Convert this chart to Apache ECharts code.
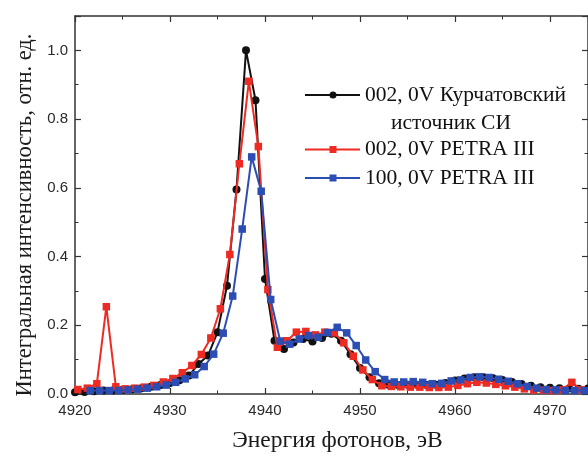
<!DOCTYPE html>
<html>
<head>
<meta charset="utf-8">
<script src="https://cdn.jsdelivr.net/npm/echarts@6/dist/echarts.min.js"></script>
<style>html,body{margin:0;padding:0;background:#fff;}#c{width:588px;height:458px;}</style>
</head>
<body>
<div id="c"></div>
<script>
// Курчатовский источник СИ, 002
var blackE = [4920,4921,4922,4923,4924,4925,4926,4927,4928,4929,4930,4931,4932,4933,4934,4935,4936,4937,4938,4939,4940,4941,4942,4943,4944,4945,4946,4947,4948,4949,4950,4951,4952,4953,4954,4955,4956,4957,4958,4959,4960,4961,4962,4963,4964,4965,4966,4967,4968,4969,4970,4971,4972,4973,4974];
var blackV = [0.005,0.006,0.008,0.010,0.010,0.012,0.014,0.017,0.021,0.026,0.032,0.040,0.054,0.087,0.112,0.180,0.315,0.595,1.000,0.855,0.335,0.155,0.131,0.150,0.160,0.153,0.163,0.175,0.155,0.116,0.076,0.049,0.031,0.027,0.026,0.027,0.027,0.026,0.027,0.032,0.039,0.045,0.049,0.049,0.046,0.041,0.035,0.029,0.024,0.020,0.018,0.017,0.016,0.015,0.016];
// PETRA III, 002
var redE = [4920.3,4921.3,4922.3,4923.3,4924.3,4925.3,4926.3,4927.3,4928.3,4929.3,4930.3,4931.3,4932.3,4933.3,4934.3,4935.3,4936.3,4937.3,4938.3,4939.3,4940.3,4941.3,4942.3,4943.3,4944.3,4945.3,4946.3,4947.3,4948.3,4949.3,4950.3,4951.3,4952.3,4953.3,4954.3,4955.3,4956.3,4957.3,4958.3,4959.3,4960.3,4961.3,4962.3,4963.3,4964.3,4965.3,4966.3,4967.3,4968.3,4969.3,4970.3,4971.3,4972.3,4973.3];
var redV = [0.013,0.017,0.030,0.254,0.021,0.015,0.017,0.020,0.025,0.035,0.045,0.062,0.083,0.115,0.163,0.248,0.406,0.670,0.910,0.720,0.304,0.136,0.155,0.180,0.182,0.172,0.180,0.178,0.149,0.110,0.070,0.042,0.024,0.022,0.021,0.020,0.020,0.019,0.019,0.020,0.025,0.030,0.034,0.032,0.028,0.024,0.020,0.015,0.012,0.011,0.010,0.012,0.034,0.012];
// PETRA III, 100
var blueE = [4921.6,4922.6,4923.6,4924.6,4925.6,4926.6,4927.6,4928.6,4929.6,4930.6,4931.6,4932.6,4933.6,4934.6,4935.6,4936.6,4937.6,4938.6,4939.6,4940.6,4941.6,4942.6,4943.6,4944.6,4945.6,4946.6,4947.6,4948.6,4949.6,4950.6,4951.6,4952.6,4953.6,4954.6,4955.6,4956.6,4957.6,4958.6,4959.6,4960.6,4961.6,4962.6,4963.6,4964.6,4965.6,4966.6,4967.6,4968.6,4969.6,4970.6,4971.6,4972.6,4973.6];
var blueV = [0.010,0.010,0.010,0.010,0.012,0.014,0.017,0.021,0.026,0.034,0.044,0.056,0.080,0.116,0.177,0.285,0.480,0.690,0.590,0.275,0.154,0.145,0.160,0.170,0.165,0.179,0.194,0.178,0.141,0.099,0.065,0.042,0.035,0.035,0.036,0.034,0.030,0.031,0.038,0.041,0.048,0.050,0.048,0.043,0.037,0.030,0.022,0.017,0.013,0.012,0.010,0.010,0.010];

var seriesNames = ['002, 0V Курчатовский источник СИ', '002, 0V PETRA III', '100, 0V PETRA III'];
var xAxisName = 'Энергия фотонов, эВ';
var yAxisName = 'Интегральная интенсивность, отн. ед.';

var BLACK = '#111111', RED = '#ee2b22', BLUE = '#2c4db3';
function pairs(e, v){ return e.map(function(x,i){ return [x, v[i]]; }); }

var axisCol = '#333';
var tickFont = {fontFamily:'Liberation Sans, Arial, sans-serif', fontSize:15, color:'#2a2a2a'};
var xNameFont = {fontFamily:'Liberation Serif, Times New Roman, serif', fontSize:23.5, color:'#1a1a1a', padding:[0,0,0,12]};
var yNameFont = {fontFamily:'Liberation Serif, Times New Roman, serif', fontSize:22.5, color:'#1a1a1a', padding:[0,20,0,0]};
var legFont = '21.5px "Liberation Serif", serif';

var chart = echarts.init(document.getElementById('c'), null, {renderer:'canvas'});
var xBase = {
  type:'value', min:4920, max:4974, interval:10,
  axisLine:{show:true, onZero:false, lineStyle:{color:axisCol, width:1.5}},
  axisTick:{show:true, inside:true, length:6, lineStyle:{color:axisCol, width:1.2}},
  minorTick:{show:true, splitNumber:2, length:3.5, lineStyle:{color:axisCol, width:1}},
  splitLine:{show:false}
};
var yBase = {
  type:'value', min:0, max:1.1, interval:0.2,
  axisLine:{show:true, onZero:false, lineStyle:{color:axisCol, width:1.5}},
  axisTick:{show:true, inside:true, length:6, lineStyle:{color:axisCol, width:1.2}},
  minorTick:{show:true, splitNumber:2, length:3.5, lineStyle:{color:axisCol, width:1}},
  splitLine:{show:false}
};

var legendX = 305, legendRows = [95, 149.5, 178];
var graphics = [];
var legCols = [BLACK, RED, BLUE];
legCols.forEach(function(col, i){
  var y = legendRows[i];
  graphics.push({type:'line', shape:{x1:legendX, y1:y, x2:legendX+55, y2:y}, style:{stroke:col, lineWidth:2}, z:100});
  if (i === 0) graphics.push({type:'circle', shape:{cx:legendX+28, cy:y, r:3.5}, style:{fill:col}, z:101});
  else graphics.push({type:'rect', shape:{x:legendX+24.5, y:y-3.5, width:7, height:7}, style:{fill:col}, z:101});
});
graphics.push({type:'text', x:365, y:95, style:{text:'002, 0V Курчатовский', font:legFont, fill:'#111', verticalAlign:'middle', align:'left'}, z:100});
graphics.push({type:'text', x:451, y:123, style:{text:'источник СИ', font:legFont, fill:'#111', verticalAlign:'middle', align:'center'}, z:100});
graphics.push({type:'text', x:365, y:149.5, style:{text:seriesNames[1], font:legFont, fill:'#111', verticalAlign:'middle', align:'left'}, z:100});
graphics.push({type:'text', x:365, y:178, style:{text:seriesNames[2], font:legFont, fill:'#111', verticalAlign:'middle', align:'left'}, z:100});

chart.setOption({
  animation:false,
  backgroundColor:'#fff',
  grid:{left:75, right:0, top:16, bottom:61, containLabel:false},
  xAxis:[
    Object.assign({}, xBase, {position:'bottom', name:xAxisName, nameLocation:'middle', nameGap:35, nameTextStyle:xNameFont,
      axisLabel:Object.assign({show:true, margin:9, showMaxLabel:false, formatter:function(v){return String(v);}}, tickFont)}),
    Object.assign({}, xBase, {position:'top', axisLabel:{show:false}})
  ],
  yAxis:[
    Object.assign({}, yBase, {position:'left', name:yAxisName, nameLocation:'middle', nameGap:36, nameTextStyle:yNameFont,
      axisLabel:Object.assign({show:true, margin:7, showMaxLabel:false, formatter:function(v){return v.toFixed(1);}}, tickFont)}),
    Object.assign({}, yBase, {position:'right', axisLabel:{show:false}})
  ],
  graphic:graphics,
  series:[
    {name:seriesNames[0], type:'line', data:pairs(blackE, blackV), symbol:'circle', symbolSize:8, itemStyle:{color:BLACK}, lineStyle:{color:BLACK, width:2}, z:2},
    {name:seriesNames[1], type:'line', data:pairs(redE, redV), symbol:'rect', symbolSize:7.5, itemStyle:{color:RED}, lineStyle:{color:RED, width:2}, z:3},
    {name:seriesNames[2], type:'line', data:pairs(blueE, blueV), symbol:'rect', symbolSize:7.5, itemStyle:{color:BLUE}, lineStyle:{color:BLUE, width:2}, z:4}
  ]
});
</script>
</body>
</html>
